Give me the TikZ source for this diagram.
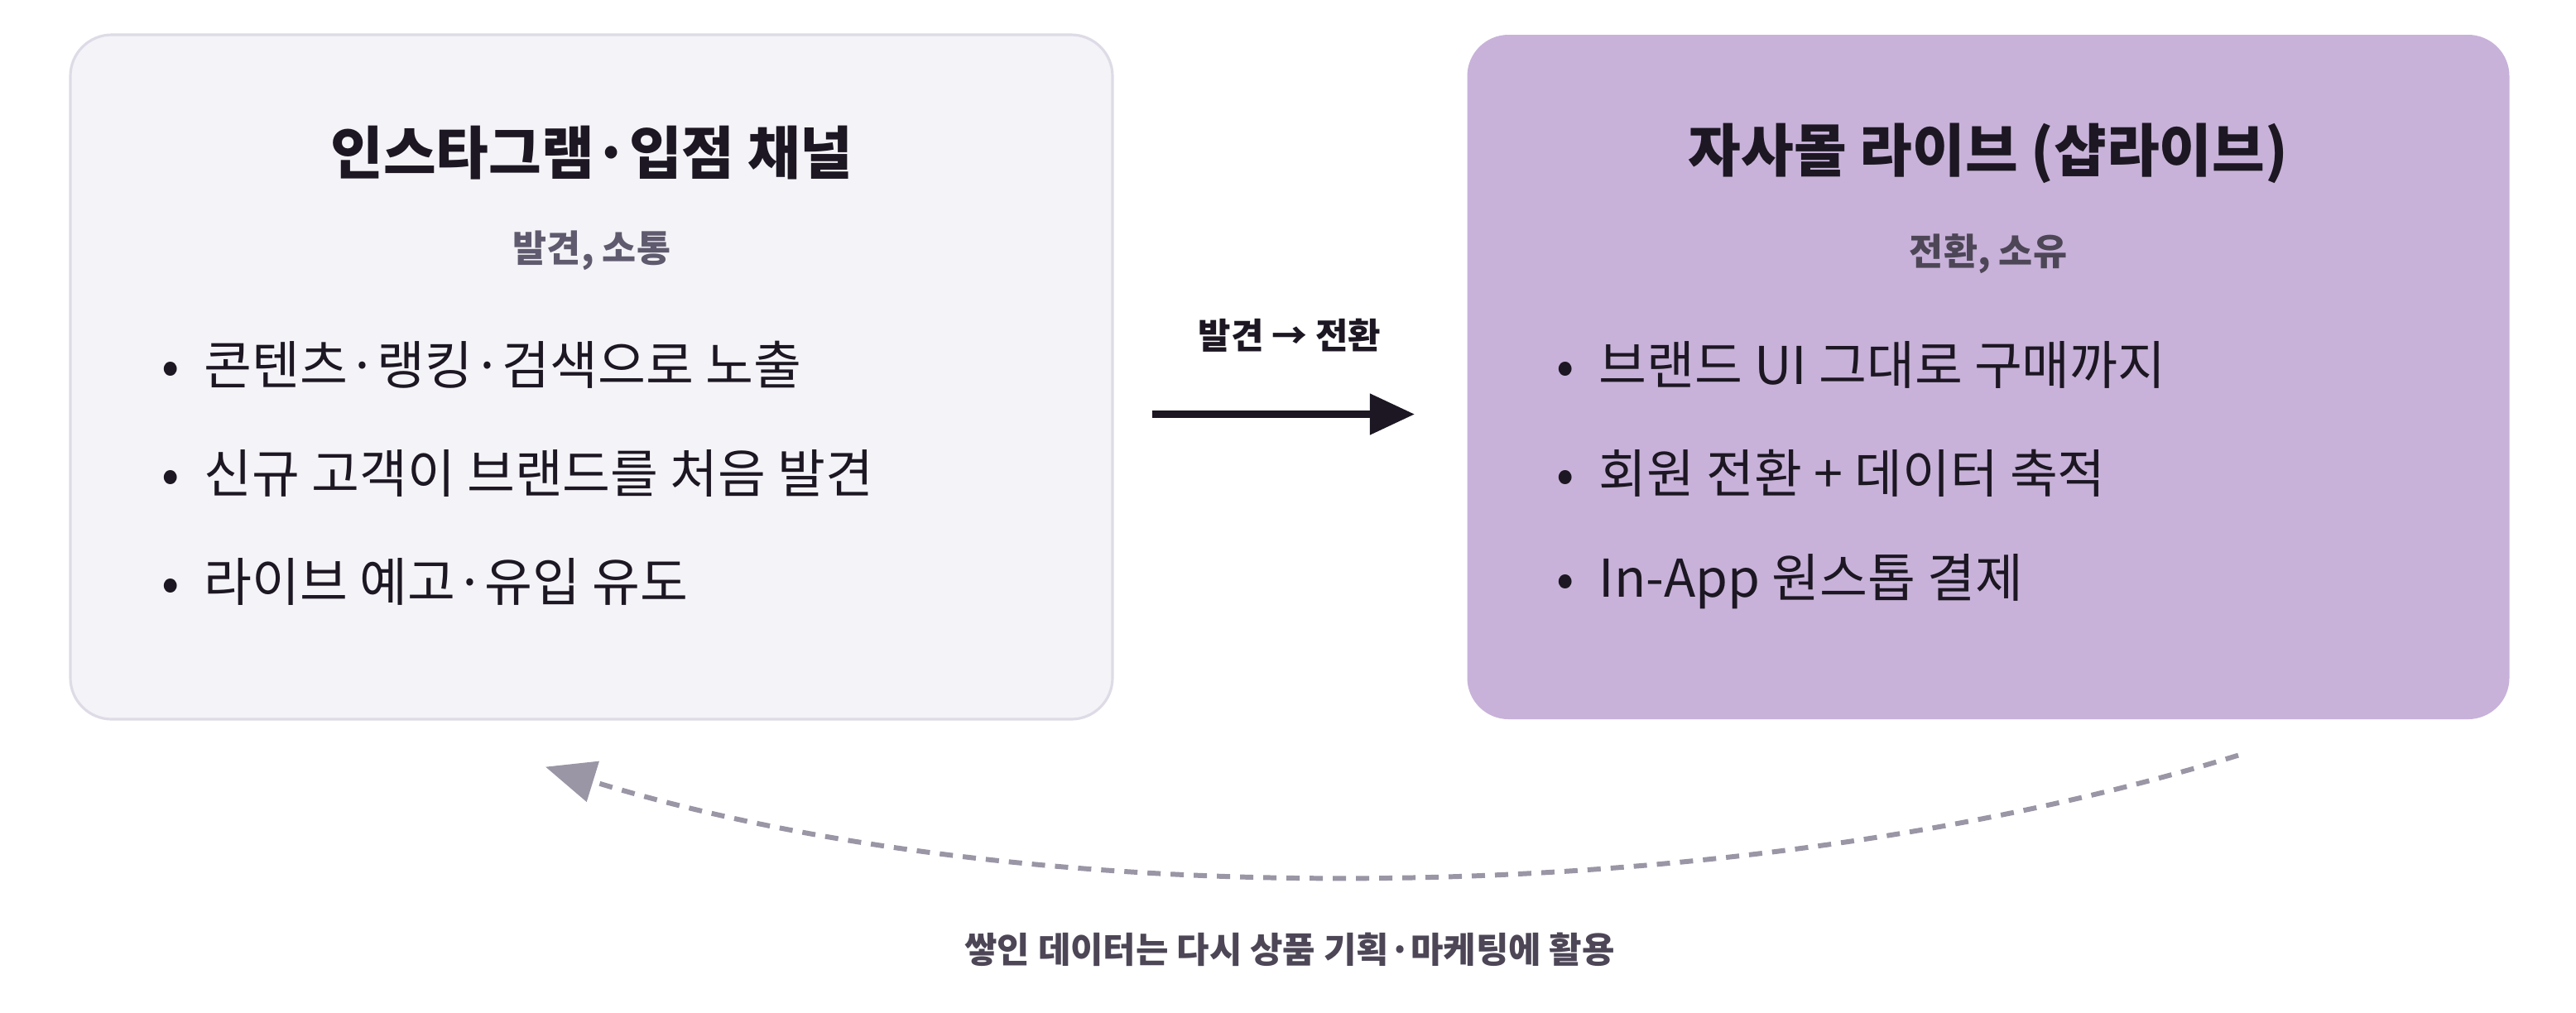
\documentclass[tikz,border=0pt]{standalone}
\usepackage{fontspec}
\setmainfont{Noto Sans CJK KR}
\usetikzlibrary{arrows.meta,positioning,calc}
\definecolor{ChanInk}{HTML}{1C1722}
\definecolor{ChanLine}{HTML}{DEDBE6}
\definecolor{ChanFill}{HTML}{F4F3F7}
\definecolor{LiveFill}{HTML}{C8B2D9}
\definecolor{ChanSub}{HTML}{5F5A6E}
\definecolor{LiveSub}{HTML}{4D4656}
\definecolor{LoopGray}{HTML}{9A96A5}

\begin{document}
\begin{tikzpicture}[
    font=\fontsize{17.9pt}{21pt}\selectfont,
    panel/.style={
        rounded corners=5mm,
        minimum width=12.59cm,
        minimum height=8.27cm,
        line width=0.9pt
    },
    title/.style={
        font=\fontsize{19.7pt}{23pt}\selectfont\bfseries,
        text=ChanInk
    },
    subtitle/.style={
        font=\fontsize{12.7pt}{15pt}\selectfont\bfseries
    },
    item/.style={
        anchor=west,
        text=ChanInk,
        inner sep=0pt
    },
    flow/.style={
        -{Triangle[length=5.4mm,width=4.8mm]},
        line width=2.3pt,
        draw=ChanInk
    },
    feedback/.style={
        -{Triangle[length=6mm,width=5mm]},
        line width=1.7pt,
        dash pattern=on 1.6mm off 1.2mm,
        draw=LoopGray
    },
    edge label/.style={
        font=\fontsize{12.2pt}{14pt}\selectfont\bfseries,
        text=ChanInk
    }
]
    \useasboundingbox[fill=white] (0,0) rectangle (31.12,-12.23);

    % two panels
    \node[panel, draw=ChanLine, fill=ChanFill] (channel) at (7.145,-4.555) {};
    \node[panel, fill=LiveFill] (live) at (24.02,-4.555) {};

    % left panel
    \node[title] (channeltitle) at (7.15,-1.85) {인스타그램·입점 채널};
    \node[subtitle, text=ChanSub, below=0.36cm of channeltitle] (channelsub) {발견, 소통};
    \node[item] (c1) at (1.95,-4.41) {•\hspace{0.47em}콘텐츠·랭킹·검색으로 노출};
    \node[item] (c2) at (1.95,-5.72) {•\hspace{0.47em}신규 고객이 브랜드를 처음 발견};
    \node[item] (c3) at (1.95,-7.03) {•\hspace{0.47em}라이브 예고·유입 유도};

    % right panel
    \node[title] (livetitle) at (24.02,-1.85) {자사몰 라이브 (샵라이브)};
    \node[subtitle, text=LiveSub, below=0.36cm of livetitle] (livesub) {전환, 소유};
    \node[item] (l1) at (18.80,-4.41) {•\hspace{0.47em}브랜드 UI 그대로 구매까지};
    \node[item] (l2) at (18.80,-5.72) {•\hspace{0.47em}회원 전환 + 데이터 축적};
    \node[item] (l3) at (18.80,-7.03) {•\hspace{0.47em}In-App 원스톱 결제};

    % forward arrow
    \coordinate (flowa) at ($(channel.east)+(0.46,-0.45)$);
    \coordinate (flowb) at ($(live.west)+(-0.62,-0.45)$);
    \draw[flow] (flowa) -- (flowb);
    \node[edge label] (flowlabel) at (15.58,-4.05) {발견 → 전환};

    % feedback loop
    \coordinate (loopa) at ($(live.south)+(3.02,-0.42)$);
    \coordinate (loopb) at ($(channel.south)+(-0.555,-0.56)$);
    \draw[feedback] (loopa) .. controls (21.04,-10.98) and (12.59,-11.12) .. (loopb);
    \node[edge label, text=LiveSub] (looplabel) at (15.58,-11.47)
        {쌓인 데이터는 다시 상품 기획·마케팅에 활용};
\end{tikzpicture}
\end{document}
